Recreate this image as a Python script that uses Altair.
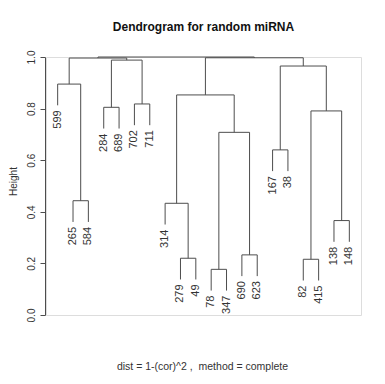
import altair as alt
import pandas as pd

# Leaf labels in dendrogram order (left to right)
leaf_labels = ["599", "265", "584", "284", "689", "702", "711", "314", "279", "49",
               "78", "347", "690", "623", "167", "38", "82", "415", "138", "148"]

# R-style merge table: negative = leaf (1-based order position), positive = earlier merge
merge_left = [-2, -4, -6, -9, -11, -13, -15, -17, -19, -1, 2, -8, 5, 12, 8, 7, 10, 14, 17]
merge_right = [-3, -5, -7, -10, -12, -14, -16, -18, -20, 1, 3, 4, 6, 13, 9, 15, 11, 16, 18]
merge_height = [0.443, 0.805, 0.818, 0.220, 0.177, 0.233, 0.640, 0.216, 0.366,
                0.895, 0.988, 0.433, 0.708, 0.853, 0.791, 0.965, 0.996, 0.997, 1.000]

title_text = "Dendrogram for random miRNA"
sub_text = "dist = 1-(cor)^2 ,\u00a0 method = complete"

hang = 0.1 * (max(merge_height) - min(merge_height))

segs = []
leaf_rows = []
pos = {}
for i, (l, r, h) in enumerate(zip(merge_left, merge_right, merge_height), start=1):
    xs = []
    for c in (l, r):
        if c < 0:
            x = -c
            y0 = h - hang
            leaf_rows.append({"x": x, "y": y0, "label": leaf_labels[x - 1]})
        else:
            x, y0 = pos[c]
        segs.append({"x": x, "x2": x, "y": y0, "y2": h})
        xs.append(x)
    segs.append({"x": xs[0], "x2": xs[1], "y": h, "y2": h})
    pos[i] = ((xs[0] + xs[1]) / 2, h)

seg_df = pd.DataFrame(segs)
leaf_df = pd.DataFrame(leaf_rows)

FONT = "Liberation Sans"
xscale = alt.Scale(domain=[0.24, 20.76], nice=False, zero=False)
yscale = alt.Scale(domain=[0, 1], nice=False, zero=False)

lines = alt.Chart(seg_df).mark_rule(color="#4d4d4d", strokeWidth=1).encode(
    x=alt.X("x:Q", scale=xscale, axis=None),
    x2="x2:Q",
    y=alt.Y("y:Q", scale=yscale,
            axis=alt.Axis(values=[0, 0.2, 0.4, 0.6, 0.8, 1.0], format=".1f",
                          grid=False, labelAngle=270, labelAlign="center",
                          labelBaseline="bottom", labelPadding=4, tickSize=5,
                          offset=1, domainColor="#4d4d4d", tickColor="#4d4d4d",
                          labelColor="#333333", labelFont=FONT, labelFontSize=10,
                          title="Height", titleFont=FONT, titleFontSize=10,
                          titleFontWeight="normal", titleColor="#333333",
                          titleAngle=270, titleX=-32, titleY=124,
                          titleAlign="center", titleBaseline="middle")),
    y2="y2:Q",
)

labels = alt.Chart(leaf_df).mark_text(
    angle=270, align="right", baseline="middle", dx=-5,
    font=FONT, fontSize=11, color="#333333"
).encode(
    x=alt.X("x:Q", scale=xscale),
    y=alt.Y("y:Q", scale=yscale),
    text="label:N",
)

footer = alt.Chart(pd.DataFrame({"t": [sub_text]})).mark_text(
    align="center", baseline="alphabetic", font=FONT, fontSize=10.5, color="#333333"
).encode(
    x=alt.value(156.5), y=alt.value(313), text="t:N"
)

chart = alt.layer(lines, labels, footer).properties(
    width=315, height=258,
    title=alt.TitleParams(title_text, font=FONT, fontSize=12, fontWeight="bold",
                          anchor="middle", offset=16, color="#111111"),
    autosize=alt.AutoSizeParams(type="none"),
    padding={"left": 38, "top": 49, "right": 16, "bottom": 61},
).configure_view(stroke=None).configure(background="white")

chart.save("out.html", embed_options={"renderer": "svg", "actions": False})
